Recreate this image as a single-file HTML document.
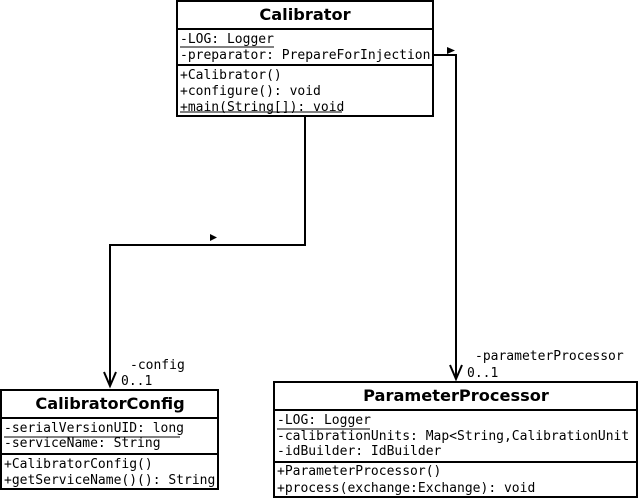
<!DOCTYPE html>
<html><head><meta charset="utf-8"><style>
html,body{margin:0;padding:0;background:#fff;width:639px;height:499px;overflow:hidden}
svg{display:block}
.m{font-family:"DejaVu Sans Mono","Liberation Mono",monospace;font-size:13px;fill:#000}
.t{font-family:"DejaVu Sans","Liberation Sans",sans-serif;font-size:16.2px;font-weight:bold;fill:#000}
</style></head><body>
<svg width="639" height="499" viewBox="0 0 639 499" xmlns="http://www.w3.org/2000/svg">
<defs>
<clipPath id="c1"><rect x="178" y="0" width="254" height="116"/></clipPath>
<clipPath id="c2"><rect x="2" y="390" width="215" height="99"/></clipPath>
<clipPath id="c3"><rect x="275" y="382" width="361" height="115"/></clipPath>
</defs>
<g fill="none" stroke="#000" stroke-width="2">
<rect x="177" y="1" width="256" height="115"/>
<line x1="177" y1="29" x2="433" y2="29"/>
<line x1="177" y1="65" x2="433" y2="65"/>
<rect x="1" y="390" width="217" height="99"/>
<line x1="1" y1="418" x2="218" y2="418"/>
<line x1="1" y1="454" x2="218" y2="454"/>
<rect x="274" y="382" width="363" height="115"/>
<line x1="274" y1="410" x2="637" y2="410"/>
<line x1="274" y1="462" x2="637" y2="462"/>
<polyline points="305,116 305,245 110,245 110,386"/>
<polyline points="104,372 110,386 116,372"/>
<polyline points="433,55 456,55 456,379"/>
<polyline points="450,365 456,379 462,365"/>
</g>
<g stroke="#000" stroke-width="1">
<line x1="180" y1="47" x2="274" y2="47"/>
<line x1="180" y1="112" x2="342" y2="112"/>
<line x1="4" y1="437" x2="180" y2="437"/>
<line x1="277" y1="429" x2="370" y2="429"/>
</g>
<polygon points="210,234 217,237.5 210,241" fill="#000"/>
<polygon points="447,47 455,50.5 447,54" fill="#000"/>
<text class="t" x="305" y="20" text-anchor="middle">Calibrator</text>
<g clip-path="url(#c1)">
<text class="m" x="180" y="43">-LOG: Logger</text>
<text class="m" x="180" y="59">-preparator: PrepareForInjection</text>
<text class="m" x="180" y="79">+Calibrator()</text>
<text class="m" x="180" y="95">+configure(): void</text>
<text class="m" x="180" y="111">+main(String[]): void</text>
</g>
<text class="t" x="110" y="409" text-anchor="middle">CalibratorConfig</text>
<g clip-path="url(#c2)">
<text class="m" x="4" y="432">-serialVersionUID: long</text>
<text class="m" x="4" y="447">-serviceName: String</text>
<text class="m" x="4" y="468">+CalibratorConfig()</text>
<text class="m" x="4" y="484">+getServiceName()(): String</text>
</g>
<text class="t" x="456" y="401" text-anchor="middle">ParameterProcessor</text>
<g clip-path="url(#c3)">
<text class="m" x="277" y="424">-LOG: Logger</text>
<text class="m" x="277" y="440">-calibrationUnits: Map&lt;String,CalibrationUnit</text>
<text class="m" x="277" y="455">-idBuilder: IdBuilder</text>
<text class="m" x="277" y="475">+ParameterProcessor()</text>
<text class="m" x="277" y="492">+process(exchange:Exchange): void</text>
</g>
<text class="m" x="130" y="369">-config</text>
<text class="m" x="121" y="385">0..1</text>
<text class="m" x="475" y="360">-parameterProcessor</text>
<text class="m" x="467" y="377">0..1</text>
</svg>
</body></html>
